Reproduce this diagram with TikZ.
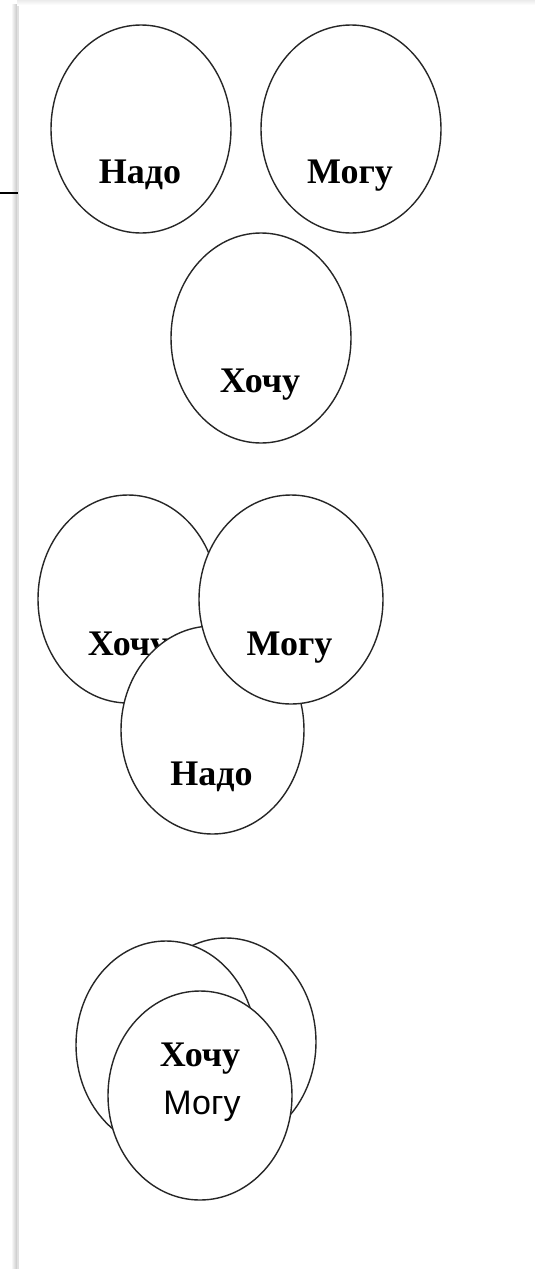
\documentclass[tikz,border=0pt]{standalone}
\usepackage{fontspec}
\setmainfont{Liberation Serif}
\newfontfamily\sansf{Liberation Sans}
\usetikzlibrary{shapes.geometric}
\tikzset{
  ring/.style={ellipse, draw=black!85, line width=1.4pt, fill=white, inner sep=0pt,
    minimum width=180pt, minimum height=208pt},
  word/.style={anchor=base, inner sep=0pt, font=\fontsize{36}{40}\selectfont\bfseries},
  sword/.style={anchor=base, inner sep=0pt, font=\fontsize{34}{40}\selectfont\sansf},
}
\begin{document}
\begin{tikzpicture}[x=1pt,y=-1pt]
\useasboundingbox (0,0) rectangle (535,1269);
\fill[white] (0,0) rectangle (535,1269);
% page shadow
\shade[left color=white, right color=black!22] (11,4) rectangle (17,1269);
\fill[black!12] (17,4) rectangle (18.5,1269);
\shade[top color=black!8, bottom color=white] (17,0) rectangle (535,5);
\coordinate (hl1) at (0,193);
\coordinate (hl2) at (18,193);
\draw[line width=1.3pt, black] (hl1) -- (hl2);

% group 1
\node[ring] (n1) at (141,129) {};
\node[ring] (m1) at (351,129) {};
\node[ring, minimum height=210pt] (h1) at (261,338) {};
\node[word] (tn1) at (140,183) {Надо};
\node[word] (tm1) at (350,183) {Могу};
\node[word] (th1) at (260,392) {Хочу};

% group 2
\node[ring] (h2) at (128,599) {};
\node[word] (th2) at (128,655) {Хочу};
\node[ring, minimum width=183pt] (n2) at (212.5,730) {};
\node[word] (tn2) at (211.5,785) {Надо};
\node[ring, minimum width=184pt, minimum height=209pt] (m2) at (291,599.5) {};
\node[word] (tm2) at (289.5,655) {Могу};

% group 3
\node[ring] (b2) at (226,1042) {};
\node[ring] (b1) at (166,1045) {};
\node[ring, minimum width=184pt, minimum height=209pt] (f3) at (200,1095.5) {};
\node[word] (th3) at (200,1066) {Хочу};
\node[sword] (tm3) at (202,1114) {Могу};
\end{tikzpicture}
\end{document}
